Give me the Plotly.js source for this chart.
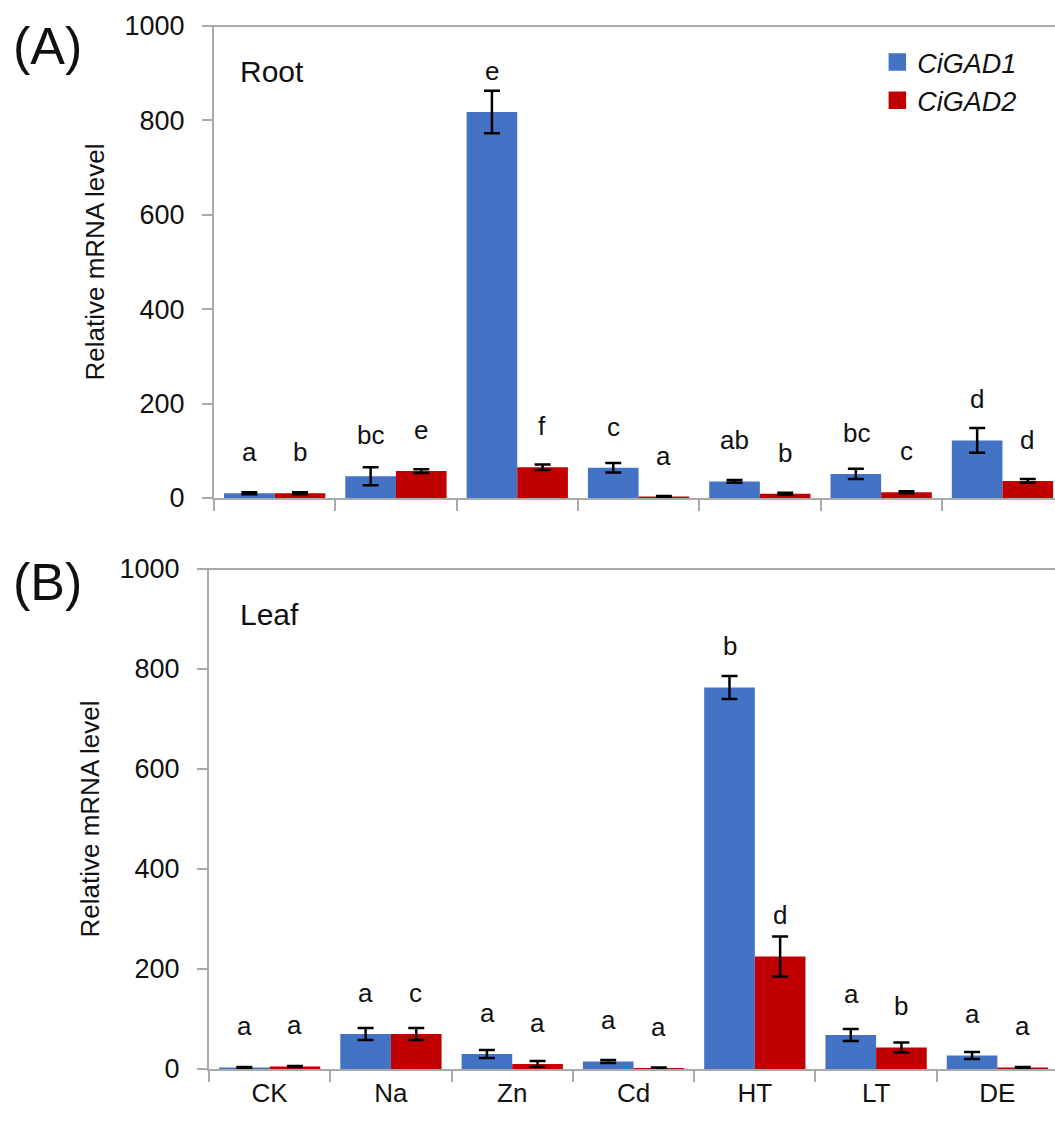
<!DOCTYPE html>
<html>
<head>
<meta charset="utf-8">
<script src="https://cdn.plot.ly/plotly-3.0.1.min.js"></script>
<style>html,body{margin:0;padding:0;background:#fff;}#chart{width:1055px;height:1126px;}</style>
</head>
<body>
<div id="chart"></div>
<script>
const categories = ["CK", "Na", "Zn", "Cd", "HT", "LT", "DE"];
const seriesNames = ["CiGAD1", "CiGAD2"];

// (A) Root
const rootGAD1 = [10, 46, 818, 64, 35, 51, 122];
const rootGAD1Err = [2, 19, 45, 10, 3, 11, 26];
const rootGAD2 = [10, 57, 65, 3, 9, 12, 36];
const rootGAD2Err = [2, 4, 6, 1, 2, 2, 4];
const rootGAD1Letters = ["a", "bc", "e", "c", "ab", "bc", "d"];
const rootGAD2Letters = ["b", "e", "f", "a", "b", "c", "d"];

// (B) Leaf
const leafGAD1 = [3, 70, 30, 15, 763, 68, 27];
const leafGAD1Err = [1, 12, 8, 3, 23, 12, 7];
const leafGAD2 = [5, 70, 10, 2, 225, 43, 3];
const leafGAD2Err = [1, 12, 6, 1, 40, 10, 1];
const leafGAD1Letters = ["a", "a", "a", "a", "b", "a", "a"];
const leafGAD2Letters = ["a", "c", "a", "a", "d", "b", "a"];

const blue = "#4472C4";
const red = "#C00000";
const font = "Liberation Sans, Arial, sans-serif";
const ink = "#111";

function barTrace(y, err, name, color, xa, ya) {
  return {
    type: "bar", x: categories, y: y, name: name,
    xaxis: xa, yaxis: ya, showlegend: false,
    marker: {color: color, line: {width: 0}},
    error_y: {type: "data", array: err, visible: true, color: "#000", thickness: 2.5, width: 8}
  };
}
function legendTrace(name, color) {
  return {
    type: "scatter", mode: "markers", x: [null], y: [null], name: name,
    xaxis: "x3", yaxis: "y3", showlegend: true, hoverinfo: "skip",
    marker: {symbol: "square", size: 16, color: color, line: {color: color, width: 1.5}}
  };
}

const data = [
  barTrace(rootGAD1, rootGAD1Err, seriesNames[0], blue, "x", "y"),
  barTrace(rootGAD2, rootGAD2Err, seriesNames[1], red, "x", "y"),
  barTrace(leafGAD1, leafGAD1Err, seriesNames[0], blue, "x2", "y2"),
  barTrace(leafGAD2, leafGAD2Err, seriesNames[1], red, "x2", "y2"),
  legendTrace(seriesNames[0], blue),
  legendTrace(seriesNames[1], red)
];

const annotations = [];
function addLetters(vals, letters, xref, yref, shift) {
  for (let i = 0; i < categories.length; i++) {
    annotations.push({
      x: categories[i], y: vals[i], xref: xref, yref: yref,
      text: letters[i], showarrow: false, yanchor: "bottom", xanchor: "center",
      xshift: shift, yshift: 24, font: {family: font, size: 26, color: ink}
    });
  }
}
addLetters(rootGAD1, rootGAD1Letters, "x", "y", -25);
addLetters(rootGAD2, rootGAD2Letters, "x", "y", 25);
addLetters(leafGAD1, leafGAD1Letters, "x2", "y2", -25);
addLetters(leafGAD2, leafGAD2Letters, "x2", "y2", 25);

annotations.push(
  {text: "(A)", xref: "paper", yref: "paper", x: -0.234, y: 1.0105, xanchor: "left", yanchor: "top", showarrow: false, font: {family: font, size: 52, color: ink}},
  {text: "(B)", xref: "paper", yref: "paper", x: -0.234, y: 0.4966, xanchor: "left", yanchor: "top", showarrow: false, font: {family: font, size: 52, color: ink}},
  {text: "Root", xref: "paper", yref: "paper", x: 0.034, y: 0.974, xanchor: "left", yanchor: "top", showarrow: false, font: {family: font, size: 30, color: ink}},
  {text: "Leaf", xref: "paper", yref: "paper", x: 0.034, y: 0.4535, xanchor: "left", yanchor: "top", showarrow: false, font: {family: font, size: 30, color: ink}}
);

const axisGray = "#aaaaaa";
const xCommon = {
  type: "category", tickson: "boundaries",
  ticks: "outside", ticklen: 11, tickwidth: 2, tickcolor: axisGray,
  showline: true, linecolor: axisGray, linewidth: 2, showgrid: false, zeroline: false,
  tickfont: {family: font, size: 26, color: ink}, fixedrange: true
};
const yCommon = {
  range: [0, 1000], tickvals: [0, 200, 400, 600, 800, 1000],
  ticks: "outside", ticklen: 10, tickwidth: 2, tickcolor: axisGray,
  showline: true, linecolor: axisGray, linewidth: 2, showgrid: false, zeroline: false,
  tickfont: {family: font, size: 27, color: ink}, ticklabelstandoff: 12,
  title: {text: "Relative mRNA level", font: {family: font, size: 26, color: ink}, standoff: 12}
};

const layout = {
  width: 1055, height: 1126,
  margin: {l: 209, r: 0, t: 26, b: 57},
  paper_bgcolor: "#fff", plot_bgcolor: "#fff",
  barmode: "group", bargap: 0.165, bargroupgap: 0,
  showlegend: true,
  legend: {x: 0.79, y: 0.9885, xanchor: "left", yanchor: "top", bgcolor: "rgba(0,0,0,0)",
    font: {family: font, size: 27, color: ink, style: "italic"}, tracegroupgap: 0,
    itemwidth: 30, itemsizing: "trace"},
  xaxis: Object.assign({}, xCommon, {anchor: "y", showticklabels: false, domain: [0.0059, 1], range: [-0.5, 6.433]}),
  yaxis: Object.assign({}, yCommon, {anchor: "x", domain: [0.5475, 1]}),
  xaxis2: Object.assign({}, xCommon, {anchor: "y2", domain: [0, 1], range: [-0.5, 6.475]}),
  yaxis2: Object.assign({}, yCommon, {anchor: "x2", domain: [0, 0.4794]}),
  xaxis3: {visible: false, domain: [0, 0.01], anchor: "y3"},
  yaxis3: {visible: false, domain: [0, 0.01], anchor: "x3"},
  annotations: annotations,
  shapes: [
    {type: "line", xref: "x domain", yref: "y domain", x0: -0.0115, x1: 1, y0: 1, y1: 1, line: {color: axisGray, width: 2}},
    {type: "line", xref: "x2 domain", yref: "y2 domain", x0: -0.013, x1: 1, y0: 1, y1: 1, line: {color: axisGray, width: 2}}
  ]
};

Plotly.newPlot("chart", data, layout, {displayModeBar: false, staticPlot: true});
</script>
</body>
</html>
